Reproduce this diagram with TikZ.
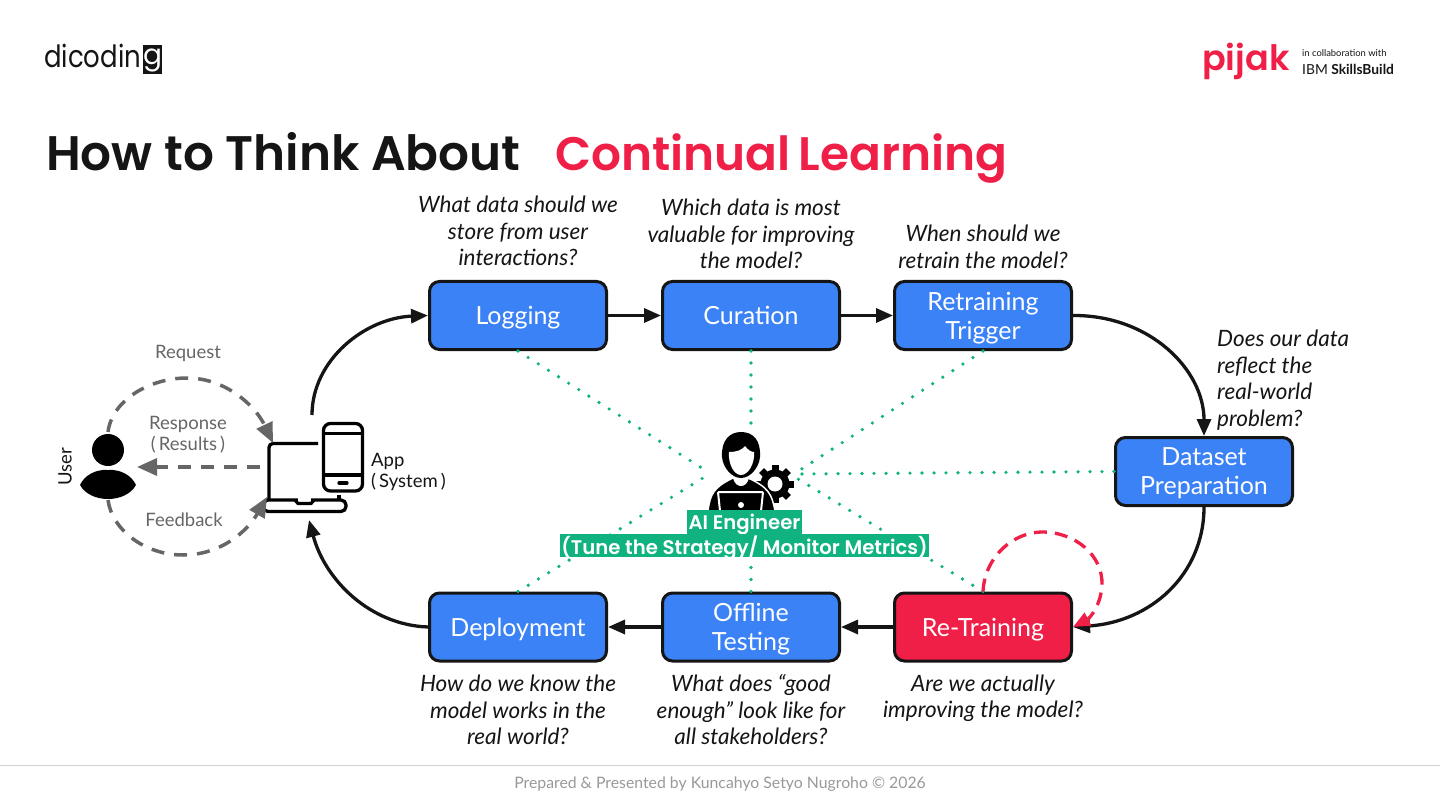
\documentclass[tikz,border=0pt]{standalone}
\usepackage{fontspec}
\usepackage{xcolor}
\usetikzlibrary{arrows.meta}
\setmainfont{Lato}
\newfontfamily\TitleFont[BoldFont={Poppins SemiBold}]{Poppins}
\definecolor{boxblue}{HTML}{3B82F6}
\definecolor{alertred}{HTML}{EF1F47}
\definecolor{inkblack}{HTML}{151515}
\definecolor{dotgreen}{HTML}{10B27F}
\definecolor{flowgray}{HTML}{666666}
\newcommand{\BoxFont}{\fontsize{25}{29}\selectfont}
\newcommand{\AskFont}{\fontsize{22.5}{26.5}\selectfont\itshape}
\newcommand{\SideFont}{\fontsize{18.5}{21}\selectfont}
\tikzset{
  stagebox/.style={draw=inkblack,fill=boxblue,text=white,line width=3pt,rounded corners=10pt,
    minimum width=177pt,minimum height=68pt,align=center,inner sep=0pt,text depth=0pt,font=\BoxFont},
  asktext/.style={text=inkblack,align=center,inner sep=0pt,font=\AskFont},
  flowline/.style={-{Triangle[length=17pt,width=14pt]},line width=3.3pt,inkblack},
  userline/.style={-{Triangle[length=20pt,width=17pt]},line width=3.5pt,flowgray,dash pattern=on 13pt off 10pt},
  dotline/.style={dotgreen,line width=3.6pt,line cap=round,dash pattern=on 0pt off 12pt},
  greenlabel/.style={fill=dotgreen,text=white,inner sep=0pt,text depth=0pt,font=\TitleFont\fontsize{19.7}{24}\selectfont\bfseries},
  sidetext/.style={text=flowgray,align=center,inner sep=0pt,font=\SideFont},
}
\begin{document}
\begin{tikzpicture}[x=1pt,y=-1pt]
  \useasboundingbox (0,0) rectangle (1440,810);
  \fill[white] (0,0) rectangle (1440,810);

  % logos
  \node[anchor=base west,inner sep=0pt,text=inkblack,font=\TitleFont\fontsize{26}{30}\selectfont] (dicoding) at (44,68) {\scalebox{1}[1.18]{dicodin}};
  \node[anchor=west,fill=inkblack,text=white,inner sep=0pt,minimum width=19pt,minimum height=29pt,font=\TitleFont\fontsize{28}{28}\selectfont] (dicodingg) at (143,60) {g};
  \node[anchor=base west,inner sep=0pt,text=alertred,font=\TitleFont\fontsize{35}{35}\selectfont\bfseries] (pijak) at (1202,71) {pijak};
  \node[anchor=west,inner sep=0pt,text=inkblack,font=\fontsize{9.4}{10}\selectfont] (collab) at (1302,53) {in collaboration with};
  \node[anchor=west,inner sep=0pt,text=inkblack,font=\fontsize{13.8}{15}\selectfont] (skills) at (1302,69) {IBM \textbf{SkillsBuild}};

  % title
  \node[anchor=base west,inner sep=0pt,text=inkblack,font=\TitleFont\fontsize{48.5}{50}\selectfont\bfseries] (title) at (46,171) {How to Think About};
  \node[anchor=base west,inner sep=0pt,text=alertred,font=\TitleFont\fontsize{47}{50}\selectfont\bfseries] (subtitle) at (555,171) {Continual\hspace{-3pt} Learning};

  % hub points round the engineer
  \coordinate (hubtop) at (751,425);
  \coordinate (hubnw) at (705,470);
  \coordinate (hubne) at (797,472);
  \coordinate (hube) at (800,474);
  \coordinate (hubse) at (798,479);
  \coordinate (hubsw) at (703,478);
  \coordinate (hubbottom) at (751,558);

  % stages
  \node[stagebox] (logging) at (518,315.5) {Logging};
  \node[stagebox] (curation) at (751,315.5) {Curation};
  \node[stagebox] (trigger) at (983,315.5) {Retraining\\Trigger};
  \node[stagebox] (dataset) at (1204,471.5) {Dataset\\Preparation};
  \node[stagebox,fill=alertred] (retraining) at (983,627) {Re-Training};
  \node[stagebox] (testing) at (751,627) {Offline\\Testing};
  \node[stagebox] (deployment) at (518,627) {Deployment};

  \draw[dotline] (logging.south) -- (hubnw);
  \draw[dotline] (curation.south) -- (hubtop);
  \draw[dotline] (trigger.south) -- (hubne);
  \draw[dotline] (dataset.west) -- (hube);
  \draw[dotline] (retraining.north) -- (hubse);
  \draw[dotline] (testing.north) -- (hubbottom);
  \draw[dotline] (deployment.north) -- (hubsw);

  % questions
  \node[asktext] (askone) at (518,231) {What data should we\\store from user\\interactions?};
  \node[asktext] (asktwo) at (751,234) {Which data is most\\valuable for improving\\the model?};
  \node[asktext] (askthree) at (983,247) {When should we\\retrain the model?};
  \node[asktext,align=left,anchor=north west] (askfour) at (1217,330) {Does our data\\reflect the\\real-world\\problem?};
  \node[asktext] (askfive) at (983,698.5) {Are we actually\\improving the model?};
  \node[asktext] (asksix) at (751,710) {What does “good\\enough” look like for\\all stakeholders?};
  \node[asktext] (askseven) at (518,710) {How do we know the\\model works in the\\real world?};

  % main loop
  \coordinate (appout) at (312,415);
  \coordinate (appin) at (309,520);
  \draw[flowline] (logging) -- (curation);
  \draw[flowline] (curation) -- (trigger);
  \draw[flowline] (trigger.east) .. controls (1150,315) and (1204,370) .. (dataset.north);
  \draw[flowline] (dataset.south) .. controls (1204,575) and (1150,622) .. (retraining.east);
  \draw[flowline] (retraining) -- (testing);
  \draw[flowline] (testing) -- (deployment);
  \draw[flowline] (deployment.west) .. controls (370,625) and (325,580) .. (appin);
  \draw[flowline] (appout) .. controls (312,360) and (365,318) .. (logging.west);
  \draw[flowline,alertred,dash pattern=on 13pt off 8pt] (retraining.north) .. controls (985,555) and (1015,532) .. (1042,532)
    .. controls (1075,532) and (1103,555) .. (1102,585) .. controls (1101,605) and (1090,618) .. (retraining.east);

  % user
  \fill[black] (108,450) circle (16);
  \fill[black] (80,485) .. controls (84,476) and (95,469) .. (108,470) .. controls (121,469) and (132,476) .. (136,485)
    .. controls (131,494) and (120,499) .. (108,499) .. controls (96,499) and (85,494) .. (80,485) -- cycle;
  \node[rotate=90,inner sep=0pt,text=inkblack,font=\SideFont] (userlabel) at (65,467) {User};
  \coordinate (usertop) at (108,432);
  \coordinate (userbottom) at (108,500);
  \coordinate (userright) at (137,467);

  % laptop and phone
  \coordinate (laptoptop) at (273,443);
  \coordinate (laptopmid) at (260,467);
  \coordinate (laptopbottom) at (267,497);
  \draw[black,line width=3.3pt,rounded corners=4pt] (318,443.5) -- (269,443.5) -- (269,500);
  \draw[black,line width=3.3pt] (339,495) -- (339,500);
  \draw[black,line width=3.3pt,rounded corners=5pt,fill=white] (263,500) rectangle (346,511.5);
  \draw[white,line width=3.5pt] (298,500) -- (311,500);
  \draw[black,line width=3.3pt,line join=round] (295,500) -- (298,503.5) -- (311,503.5) -- (314,500);
  \draw[black,line width=3.3pt,rounded corners=7pt,fill=white] (323.5,423.5) rectangle (362.5,491);
  \draw[black,line width=3.3pt] (323.5,433.5) -- (362.5,433.5);
  \draw[black,line width=3.3pt] (323.5,475) -- (362.5,475);
  \draw[black,line width=3.3pt,line cap=round] (339,483) -- (347,483);
  \node[anchor=west,align=left,inner sep=0pt,text=inkblack,font=\SideFont] (applabel) at (371,472) {App\\(\,System\,)};

  % request, response, feedback
  \draw[userline] (usertop) .. controls (112,400) and (150,378) .. (187,378) .. controls (225,378) and (255,405) .. (laptoptop);
  \draw[userline] (laptopmid) -- (userright);
  \draw[userline] (userbottom) .. controls (112,530) and (145,555) .. (183,555) .. controls (222,555) and (248,530) .. (laptopbottom);
  \node[sidetext] (request) at (188,353) {Request};
  \node[sidetext] (response) at (188,435) {Response\\(\,Results\,)};
  \node[sidetext] (feedback) at (184,520) {Feedback};

  % engineer
  \fill[black] (775,484) circle (14.5);
  \foreach \a in {0,45,...,315}
    \fill[black,rotate around={\a:(775,484)}] (771.5,465) rectangle (778.5,472);
  \fill[white] (775,484) circle (7.5);
  \filldraw[black,draw=white,line width=1.5pt] (708,511) .. controls (710,494) and (714,487) .. (733,478) -- (748,478) .. controls (768,487) and (772,494) .. (775,511) -- cycle;
  \fill[white] (733,477) -- (749,477) .. controls (748,484) and (744,486) .. (741,486) .. controls (738,486) and (734,484) .. (733,477) -- cycle;
  \fill[black] (722,457) .. controls (721,440) and (730,432) .. (741,432) .. controls (753,432) and (761,440) .. (760,457)
    .. controls (759,468) and (750,478) .. (741,478) .. controls (732,478) and (723,468) .. (722,457) -- cycle;
  \fill[white] (729,452) .. controls (737,452) and (742,450) .. (745,446) .. controls (748,450) and (751,452) .. (754,452)
    .. controls (755,464) and (748,475) .. (741,475) .. controls (734,475) and (728,464) .. (729,452) -- cycle;
  \draw[white,line width=2pt,rounded corners=1pt] (720,511) -- (718,492) -- (763,492) -- (761,511);
  \fill[white] (741,505) circle (3);
  \node[greenlabel,minimum width=115pt,minimum height=24pt] (engineername) at (744.5,522) {AI Engineer};
  \node[greenlabel,minimum width=369pt,minimum height=23pt] (engineertask) at (744.5,545.5) {(Tune the Strategy/ Monitor Metrics)};

  % footer
  \draw[gray!35,line width=1pt] (0,765) -- (1440,765);
  \node[inner sep=0pt,text=gray!80,font=\fontsize{15.8}{20}\selectfont] (footer) at (720,784.5) {Prepared \& Presented by Kuncahyo Setyo Nugroho © 2026};
\end{tikzpicture}
\end{document}
